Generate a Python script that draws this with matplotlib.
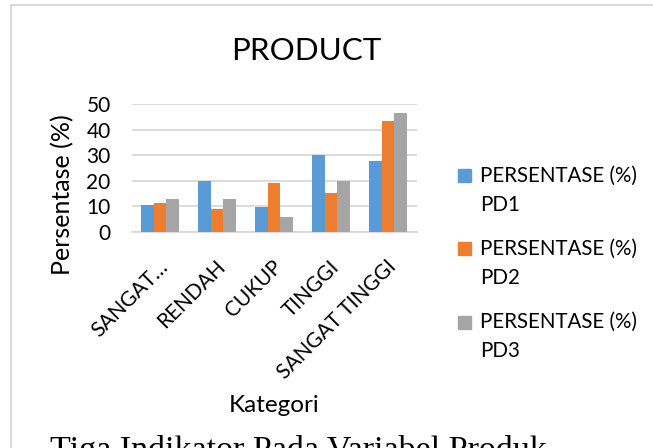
import numpy as np
import matplotlib
matplotlib.use("Agg")
import matplotlib.pyplot as plt
import matplotlib.transforms as mtrans
from matplotlib.lines import Line2D
from matplotlib.patches import Rectangle

plt.rcParams['font.family'] = ['Lato', 'DejaVu Sans']

# data
kategori = ["SANGAT…", "RENDAH", "CUKUP", "TINGGI", "SANGAT TINGGI"]
pd1 = [10.5, 20.0, 9.8, 30.0, 27.7]
pd2 = [11.3, 9.0, 19.1, 15.2, 43.5]
pd3 = [12.9, 12.9, 5.8, 20.0, 46.6]
series_names = ["PERSENTASE (%)\nPD1", "PERSENTASE (%)\nPD2", "PERSENTASE (%)\nPD3"]
colors = ["#5B9BD5", "#ED7D31", "#A5A5A5"]
grid_c = "#D9D9D9"

W, H = 653, 448
fig = plt.figure(figsize=(W/100, H/100), dpi=100)

# chart frame (only left and top edges visible)
fig.add_artist(Line2D([11/W, 11/W], [0, 1-5/H], color=grid_c, lw=1.5))
fig.add_artist(Line2D([11/W, 1], [1-5/H, 1-5/H], color=grid_c, lw=1.5))

ax = fig.add_axes([131.5/W, 1-231.7/H, 285/W, (231.7-104.3)/H])
x = np.arange(len(kategori))
bw = 1/4.5
for i, (vals, c) in enumerate(zip([pd1, pd2, pd3], colors)):
    ax.bar(x + (i-1)*bw, vals, bw, color=c, zorder=3)

ax.set_xlim(-0.5, len(kategori)-0.5)
ax.set_ylim(0, 50)
ax.set_yticks(range(0, 51, 10))
ax.grid(axis='y', color=grid_c, lw=1.3, zorder=0)
for s in ['top', 'right', 'left']:
    ax.spines[s].set_visible(False)
ax.spines['bottom'].set_color(grid_c)
ax.spines['bottom'].set_linewidth(1.3)
ax.tick_params(axis='both', length=0, labelsize=15, colors='#000000')
ax.tick_params(axis='y', pad=15)
ax.set_xticks(x)
ax.set_xticklabels(kategori, rotation=45, ha='right', rotation_mode='anchor')
ax.tick_params(axis='x', pad=18)
shift = mtrans.ScaledTranslation(-2/100, 0, fig.dpi_scale_trans)
for lab in ax.get_xticklabels():
    lab.set_transform(lab.get_transform() + shift)

ax.set_ylabel("Persentase (%)", fontsize=18)
ax.yaxis.label.set_va('center')
ax.yaxis.set_label_coords((63-131.5)/285, (231.7-195)/127.4)
ax.set_xlabel("Kategori", fontsize=17.5)
ax.xaxis.label.set_va('center')
ax.xaxis.set_label_coords((274-131.5)/285, -(405-231.7)/127.4)

fig.text(306/W, 1-51/H, "PRODUCT", fontsize=22.6, ha='center', va='center')

# legend, drawn by hand to get Excel's layout (key square on first line)
for k, (name, c) in enumerate(zip(series_names, colors)):
    yc = 176 + 73*k
    fig.add_artist(Rectangle((458/W, 1-(yc+6.5)/H), 13/W, 13/H, color=c,
                             transform=fig.transFigure))
    l1, l2 = name.split("\n")
    fig.text(480/W, 1-yc/H, l1, fontsize=14.8, ha='left', va='center')
    fig.text(480/W, 1-(yc+29)/H, l2, fontsize=14.8, ha='left', va='center')

fig.text(50/W, (H-458.5)/H, "Tiga Indikator Pada Variabel Produk", fontsize=24.5,
         family='Liberation Serif', ha='left', va='baseline')

fig.savefig("out.png", dpi=100)
